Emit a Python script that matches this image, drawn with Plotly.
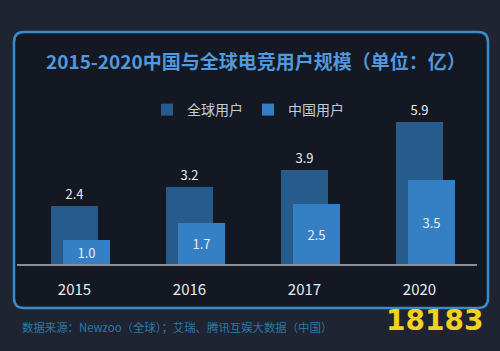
import plotly.graph_objects as go

years = ["2015", "2016", "2017", "2020"]
global_users = [2.4, 3.2, 3.9, 5.9]
china_users = [1.0, 1.7, 2.5, 3.5]
series_names = ["全球用户", "中国用户"]
title_text = "2015-2020中国与全球电竞用户规模（单位：亿）"
source_text = "数据来源：Newzoo（全球）；艾瑞、腾讯互娱大数据（中国）"

W, H = 500, 351
def px(x):
    return x / W
def py(y):
    return 1 - y / H

xs = list(range(len(years)))
FONT = "Noto Sans CJK SC"

fig = go.Figure()
fig.add_trace(go.Bar(
    x=xs, y=global_users, name=series_names[0],
    marker=dict(color="#275b8c", line=dict(width=0)),
    width=0.41, offset=-0.205,
    text=[f"{v:.1f}" for v in global_users], textposition="outside",
    textfont=dict(color="#e8ecf0", size=13, family=FONT),
    cliponaxis=False,
))
fig.add_trace(go.Bar(
    x=xs, y=china_users, name=series_names[1],
    marker=dict(color="#3580c4", line=dict(width=0)),
    width=0.41, offset=-0.1,
    text=[f"{v:.1f}" for v in china_users], textposition="inside",
    insidetextanchor="middle", textangle=0, constraintext="none",
    textfont=dict(color="#e8ecf0", size=13, family=FONT),
))

# rounded panel path
x0, x1, y0, y1, r = px(14), px(488), py(32), py(308), 10
rx, ry = r / W, r / H
path = (f"M {x0+rx},{y0} L {x1-rx},{y0} Q {x1},{y0} {x1},{y0-ry} "
        f"L {x1},{y1+ry} Q {x1},{y1} {x1-rx},{y1} L {x0+rx},{y1} "
        f"Q {x0},{y1} {x0},{y1+ry} L {x0},{y0-ry} Q {x0},{y0} {x0+rx},{y0} Z")

fig.update_layout(
    width=W, height=H,
    margin=dict(l=0, r=0, t=0, b=0),
    paper_bgcolor="#1e2431",
    plot_bgcolor="rgba(0,0,0,0)",
    barmode="overlay",
    bargap=0,
    showlegend=True,
    legend=dict(orientation="h", x=0.496, xanchor="center", y=py(110), yanchor="middle",
                font=dict(color="#c4ccd8", size=14, family=FONT),
                bgcolor="rgba(0,0,0,0)", itemwidth=30, traceorder="normal"),
    xaxis=dict(domain=[px(17), px(477)], range=[-0.5, 3.5],
               tickmode="array", tickvals=xs, ticktext=years,
               showgrid=False, zeroline=False,
               showline=True, linecolor="#8a9099", linewidth=1.5,
               ticks="outside", ticklen=11, tickcolor="rgba(0,0,0,0)",
               tickfont=dict(color="#e8ecf0", size=15, family=FONT)),
    yaxis=dict(domain=[py(264), py(96)], range=[0, 7], visible=False),
    shapes=[dict(type="path", path=path, xref="paper", yref="paper",
                 fillcolor="#131823", line=dict(color="#3b8bcb", width=2.5),
                 layer="below")],
    annotations=[
        dict(text=f"<b>{title_text}</b>", x=px(256), y=py(60), xref="paper", yref="paper",
             showarrow=False, font=dict(color="#5199dc", size=19, family=FONT),
             xanchor="center", yanchor="middle"),
        dict(text=source_text, x=px(20), y=py(327), xref="paper", yref="paper",
             showarrow=False, font=dict(color="#2b7ba8", size=11.4, family=FONT),
             xanchor="left", yanchor="middle"),
        dict(text="<b>18183</b>", x=px(434), y=py(320), xref="paper", yref="paper",
             showarrow=False, font=dict(color="#f2d21e", size=28, family="DejaVu Sans"),
             xanchor="center", yanchor="middle"),
    ],
)

fig.write_html("out.html")
